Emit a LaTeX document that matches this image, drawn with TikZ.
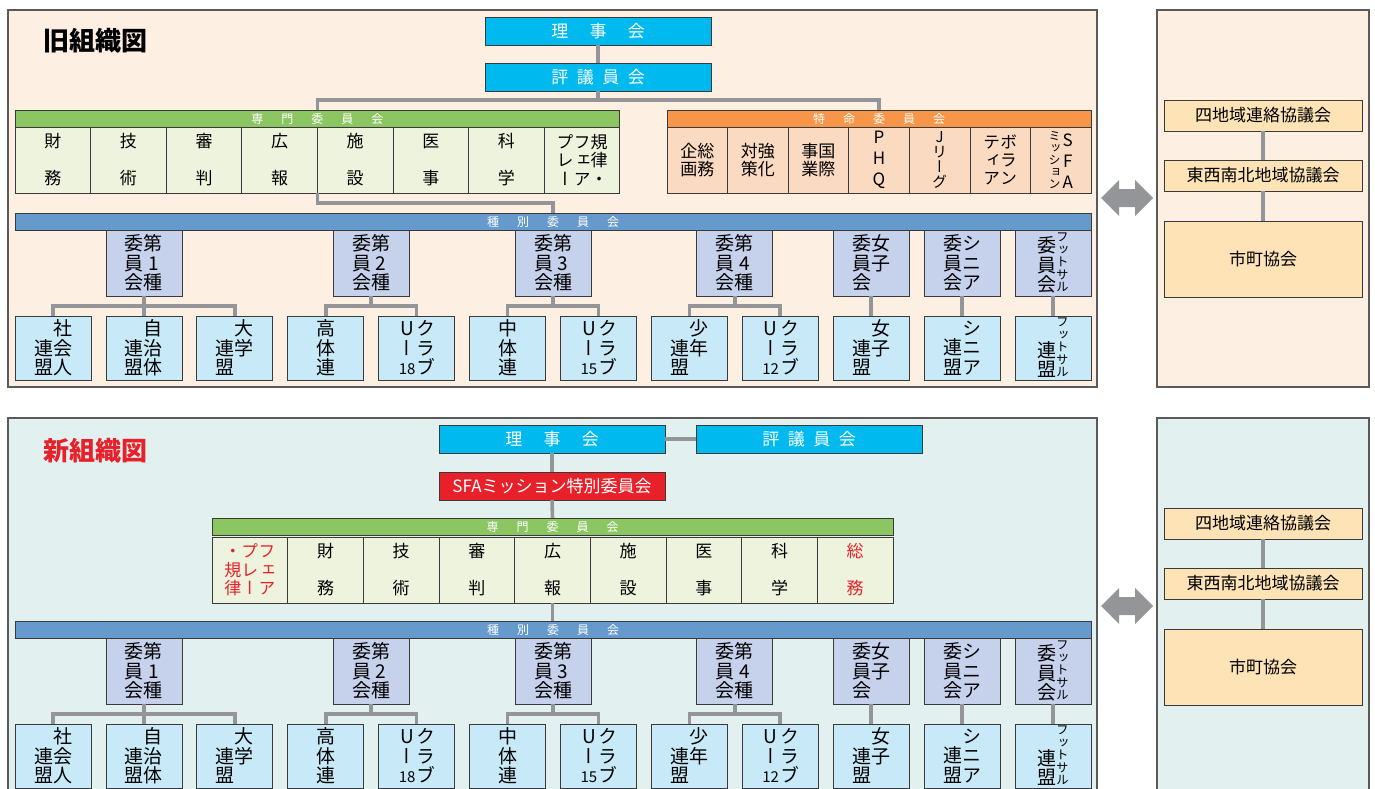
\documentclass[tikz,border=0pt]{standalone}
\usepackage{fontspec}
\setmainfont{Noto Sans CJK JP}
\newfontfamily\tate{Noto Sans CJK JP}[RawFeature=+vert]

\definecolor{peach}{HTML}{FDEFE1}
\definecolor{mint}{HTML}{E2F1F0}
\definecolor{frame}{HTML}{5A5A5A}
\definecolor{edge}{HTML}{3A3A3A}
\definecolor{lineg}{HTML}{939598}
\definecolor{cyanbox}{HTML}{00B9EF}
\definecolor{greenhd}{HTML}{8CC663}
\definecolor{greencell}{HTML}{EEF3DD}
\definecolor{orangehd}{HTML}{F79548}
\definecolor{orangecell}{HTML}{FBDAC2}
\definecolor{bluebar}{HTML}{6699CC}
\definecolor{lavbox}{HTML}{C6D2EC}
\definecolor{skybox}{HTML}{C7E9F8}
\definecolor{sandbox}{HTML}{FEE3B6}
\definecolor{redbox}{HTML}{E8202A}

% 縦書きの列 (上から下へ)
\newcommand\vcol[2][19.5pt]{\vbox{\baselineskip=#1\lineskiplimit=-\maxdimen
  \let\\\cr\halign{\hfil##\hfil\cr#2\crcr}}}
\newcommand\hgap{\hspace{1.5em}}

\tikzset{
  panel/.style={draw=frame, line width=1.6pt},
  conn/.style={draw=lineg, line width=3.6pt},
  box/.style={draw=edge, line width=0.8pt, inner sep=0pt, outer sep=0pt, anchor=north west},
  topbox/.style={box, fill=cyanbox, text=white, minimum width=226pt, minimum height=28pt,
    font=\fontsize{17}{17}\selectfont},
  header/.style={box, minimum height=17pt, text=white, font=\fontsize{12}{12}\selectfont},
  cell/.style={box, fill=greencell, minimum width=75.6pt, minimum height=66pt,
    font=\tate\fontsize{17}{17}\selectfont},
  tcell/.style={box, fill=orangecell, minimum width=60.6pt, minimum height=66pt,
    font=\tate\fontsize{17}{17}\selectfont},
  midbox/.style={box, fill=lavbox, minimum width=76pt, minimum height=66pt,
    font=\tate\fontsize{19}{19}\selectfont},
  lowbox/.style={box, fill=skybox, minimum width=76pt, minimum height=64pt,
    font=\tate\fontsize{19}{19}\selectfont},
  areabox/.style={box, fill=sandbox, minimum width=198pt, font=\fontsize{17}{17}\selectfont},
  title/.style={font=\fontsize{26}{26}\selectfont\bfseries},
}

% 種別委員会から下の部分
\newcommand\shubetsu{%
  \node[header, fill=bluebar, minimum width=1076pt] (shu) at (15,213)
    {種\hgap 別\hgap 委\hgap 員\hgap 会};
  \node[midbox] (k1) at (105.9,230) {\vcol{委\\員\\会}\vcol{第\\1\\種}};
  \node[midbox] (k2) at (333.2,230) {\vcol{委\\員\\会}\vcol{第\\2\\種}};
  \node[midbox] (k3) at (515,230) {\vcol{委\\員\\会}\vcol{第\\3\\種}};
  \node[midbox] (k4) at (696.8,230) {\vcol{委\\員\\会}\vcol{第\\4\\種}};
  \node[midbox] (k5) at (833.1,230) {\vcol{委\\員\\会}\vcol{女\\子\\{}}};
  \node[midbox] (k6) at (924,230) {\vcol{委\\員\\会}\vcol{シ\\ニ\\ア}};
  \node[midbox] (k7) at (1014.9,230)
    {\vcol{委\\員\\会}{\fontsize{12.5}{12.5}\selectfont\vcol[12.5pt]{フ\\ッ\\ト\\サ\\ル}}};
  % 連盟・クラブ
  \node[lowbox] (b0) at (15,316) {\vcol{連\\盟}\vcol{社\\会\\人}};
  \node[lowbox] (b1) at (105.9,316) {\vcol{連\\盟}\vcol{自\\治\\体}};
  \node[lowbox] (b2) at (196.8,316) {\vcol{連\\盟}\vcol{大\\学\\{}}};
  \node[lowbox] (b3) at (287.7,316) {\vcol{高\\体\\連}};
  \node[lowbox] (b4) at (378.6,316) {\vcol{U\\ー\\{\fontsize{15}{15}\selectfont 18}}\vcol{ク\\ラ\\ブ}};
  \node[lowbox] (b5) at (469.5,316) {\vcol{中\\体\\連}};
  \node[lowbox] (b6) at (560.4,316) {\vcol{U\\ー\\{\fontsize{15}{15}\selectfont 15}}\vcol{ク\\ラ\\ブ}};
  \node[lowbox] (b7) at (651.3,316) {\vcol{連\\盟}\vcol{少\\年\\{}}};
  \node[lowbox] (b8) at (742.2,316) {\vcol{U\\ー\\{\fontsize{15}{15}\selectfont 12}}\vcol{ク\\ラ\\ブ}};
  \node[lowbox] (b9) at (833.1,316) {\vcol{連\\盟}\vcol{女\\子\\{}}};
  \node[lowbox] (b10) at (924,316) {\vcol{連\\盟}\vcol{シ\\ニ\\ア}};
  \node[lowbox] (b11) at (1014.9,316)
    {\vcol{連\\盟}{\fontsize{12.5}{12.5}\selectfont\vcol[12.5pt]{フ\\ッ\\ト\\サ\\ル}}};
  \draw[conn] (b0.north) -- ++(0,-10) -| (b2.north);
  \draw[conn] (k1.south) -- (b1.north);
  \draw[conn] (b3.north) -- ++(0,-10) -| (b4.north);
  \draw[conn] (k2.south) -- ++(0,10);
  \draw[conn] (b5.north) -- ++(0,-10) -| (b6.north);
  \draw[conn] (k3.south) -- ++(0,10);
  \draw[conn] (b7.north) -- ++(0,-10) -| (b8.north);
  \draw[conn] (k4.south) -- ++(0,10);
  \draw[conn] (k5.south) -- (b9.north);
  \draw[conn] (k6.south) -- (b10.north);
  \draw[conn] (k7.south) -- (b11.north);
}

% 地域の三つの箱
\newcommand\chiiki{%
  \node[areabox, minimum height=31pt] (shichiiki) at (1164,100) {四地域連絡協議会};
  \node[areabox, minimum height=31pt] (tozai) at (1164,160) {東西南北地域協議会};
  \node[areabox, minimum height=76pt] (shicho) at (1164,221) {市町協会};
  \draw[conn] (shichiiki.south) -- (tozai.north);
  \draw[conn] (tozai.south) -- (shicho.north);
  \fill[lineg] (1101,198) -- (1119,180) -- (1119,189) -- (1135,189) -- (1135,180)
    -- (1153,198) -- (1135,216) -- (1135,207) -- (1119,207) -- (1119,216) -- cycle;
}

\begin{document}
\begin{tikzpicture}[x=1pt, y=-1pt]
  \useasboundingbox (0,0) rectangle (1375,789);
  % 枠
  \filldraw[panel, fill=peach] (8,10) rectangle (1097,387);
  \filldraw[panel, fill=peach] (1157,10) rectangle (1369,387);
  \filldraw[panel, fill=mint] (8,418) rectangle (1097,800);
  \filldraw[panel, fill=mint] (1157,418) rectangle (1369,800);

  % 旧組織図
  \node[title] (oldtitle) at (95,41) {旧組織図};
  \node[topbox] (riji) at (485,17) {理\hspace{1.25em}事\hspace{1.25em}会};
  \node[topbox] (hyogi) at (485,63) {評\hspace{.5em}議\hspace{.5em}員\hspace{.5em}会};
  \node[header, fill=greenhd, minimum width=604.8pt] (senmon) at (15,110)
    {専\hgap 門\hgap 委\hgap 員\hgap 会};
  \node[cell] (s1) at (15,127) {\vcol[37pt]{財\\務}};
  \node[cell] (s2) at (90.6,127) {\vcol[37pt]{技\\術}};
  \node[cell] (s3) at (166.2,127) {\vcol[37pt]{審\\判}};
  \node[cell] (s4) at (241.8,127) {\vcol[37pt]{広\\報}};
  \node[cell] (s5) at (317.4,127) {\vcol[37pt]{施\\設}};
  \node[cell] (s6) at (393,127) {\vcol[37pt]{医\\事}};
  \node[cell] (s7) at (468.6,127) {\vcol[37pt]{科\\学}};
  \node[cell] (s8) at (544.2,127)
    {\vcol[18.5pt]{プ\\レ\\ー}\vcol[18.5pt]{フ\\ェ\\ア}\vcol[18.5pt]{規\\律\\・}};
  \node[header, fill=orangehd, minimum width=424pt] (tokumei) at (667,110)
    {特\hgap 命\hgap 委\hgap 員\hgap 会};
  \node[tcell] (t1) at (667,127) {\vcol[18pt]{企\\画}\vcol[18pt]{総\\務}};
  \node[tcell] (t2) at (727.6,127) {\vcol[18pt]{対\\策}\vcol[18pt]{強\\化}};
  \node[tcell] (t3) at (788.1,127) {\vcol[18pt]{事\\業}\vcol[18pt]{国\\際}};
  \node[tcell] (t4) at (848.7,127) {\vcol[21pt]{P\\H\\Q}};
  \node[tcell] (t5) at (909.3,127) {\fontsize{15}{15}\selectfont\vcol[15pt]{J\\リ\\ー\\グ}};
  \node[tcell] (t6) at (969.9,127) {\vcol[18pt]{テ\\ィ\\ア}\vcol[18pt]{ボ\\ラ\\ン}};
  \node[tcell] (t7) at (1030.4,127)
    {{\fontsize{12}{12}\selectfont\vcol[12pt]{ミ\\ッ\\シ\\ョ\\ン}}\kern2pt\vcol[21pt]{S\\F\\A}};
  \draw[conn] (riji.south) -- (hyogi.north);
  \draw[conn] (hyogi.south) -- ++(0,9) -| (senmon.north);
  \draw[conn] (hyogi.south) ++(0,9) -| (tokumei.north);
  \begin{scope}[name prefix=o-]
    \shubetsu
    \chiiki
  \end{scope}
  \draw[conn] (s5.south west) -- ++(0,10) -| (o-shu.north);

  % 新組織図
  \node[title, text=redbox] (newtitle) at (95,451) {新組織図};
  \node[topbox] (rijin) at (439,425) {理\hspace{1.25em}事\hspace{1.25em}会};
  \node[topbox] (hyogin) at (696,425) {評\hspace{.5em}議\hspace{.5em}員\hspace{.5em}会};
  \node[topbox, fill=redbox] (sfa) at (439,472) {SFAミッション特別委員会};
  \node[header, fill=greenhd, minimum width=681pt] (senmonn) at (212,518)
    {専\hgap 門\hgap 委\hgap 員\hgap 会};
  \node[cell, text=redbox] (n1) at (212,537)
    {\vcol[18.5pt]{・\\規\\律}\vcol[18.5pt]{プ\\レ\\ー}\vcol[18.5pt]{フ\\ェ\\ア}};
  \node[cell] (n2) at (287.7,537) {\vcol[37pt]{財\\務}};
  \node[cell] (n3) at (363.3,537) {\vcol[37pt]{技\\術}};
  \node[cell] (n4) at (439,537) {\vcol[37pt]{審\\判}};
  \node[cell] (n5) at (514.7,537) {\vcol[37pt]{広\\報}};
  \node[cell] (n6) at (590.3,537) {\vcol[37pt]{施\\設}};
  \node[cell] (n7) at (666,537) {\vcol[37pt]{医\\事}};
  \node[cell] (n8) at (741.7,537) {\vcol[37pt]{科\\学}};
  \node[cell, text=redbox] (n9) at (817.3,537) {\vcol[37pt]{総\\務}};
  \draw[conn] (rijin.east) -- (hyogin.west);
  \draw[conn] (rijin.south) -- (sfa.north);
  \draw[conn] (sfa.south) -- (senmonn.north);
  \begin{scope}[name prefix=n-, yshift=-408pt]
    \shubetsu
    \chiiki
  \end{scope}
  \draw[conn] (n5.south) -- (n5.south |- n-shu.north);
\end{tikzpicture}
\end{document}
